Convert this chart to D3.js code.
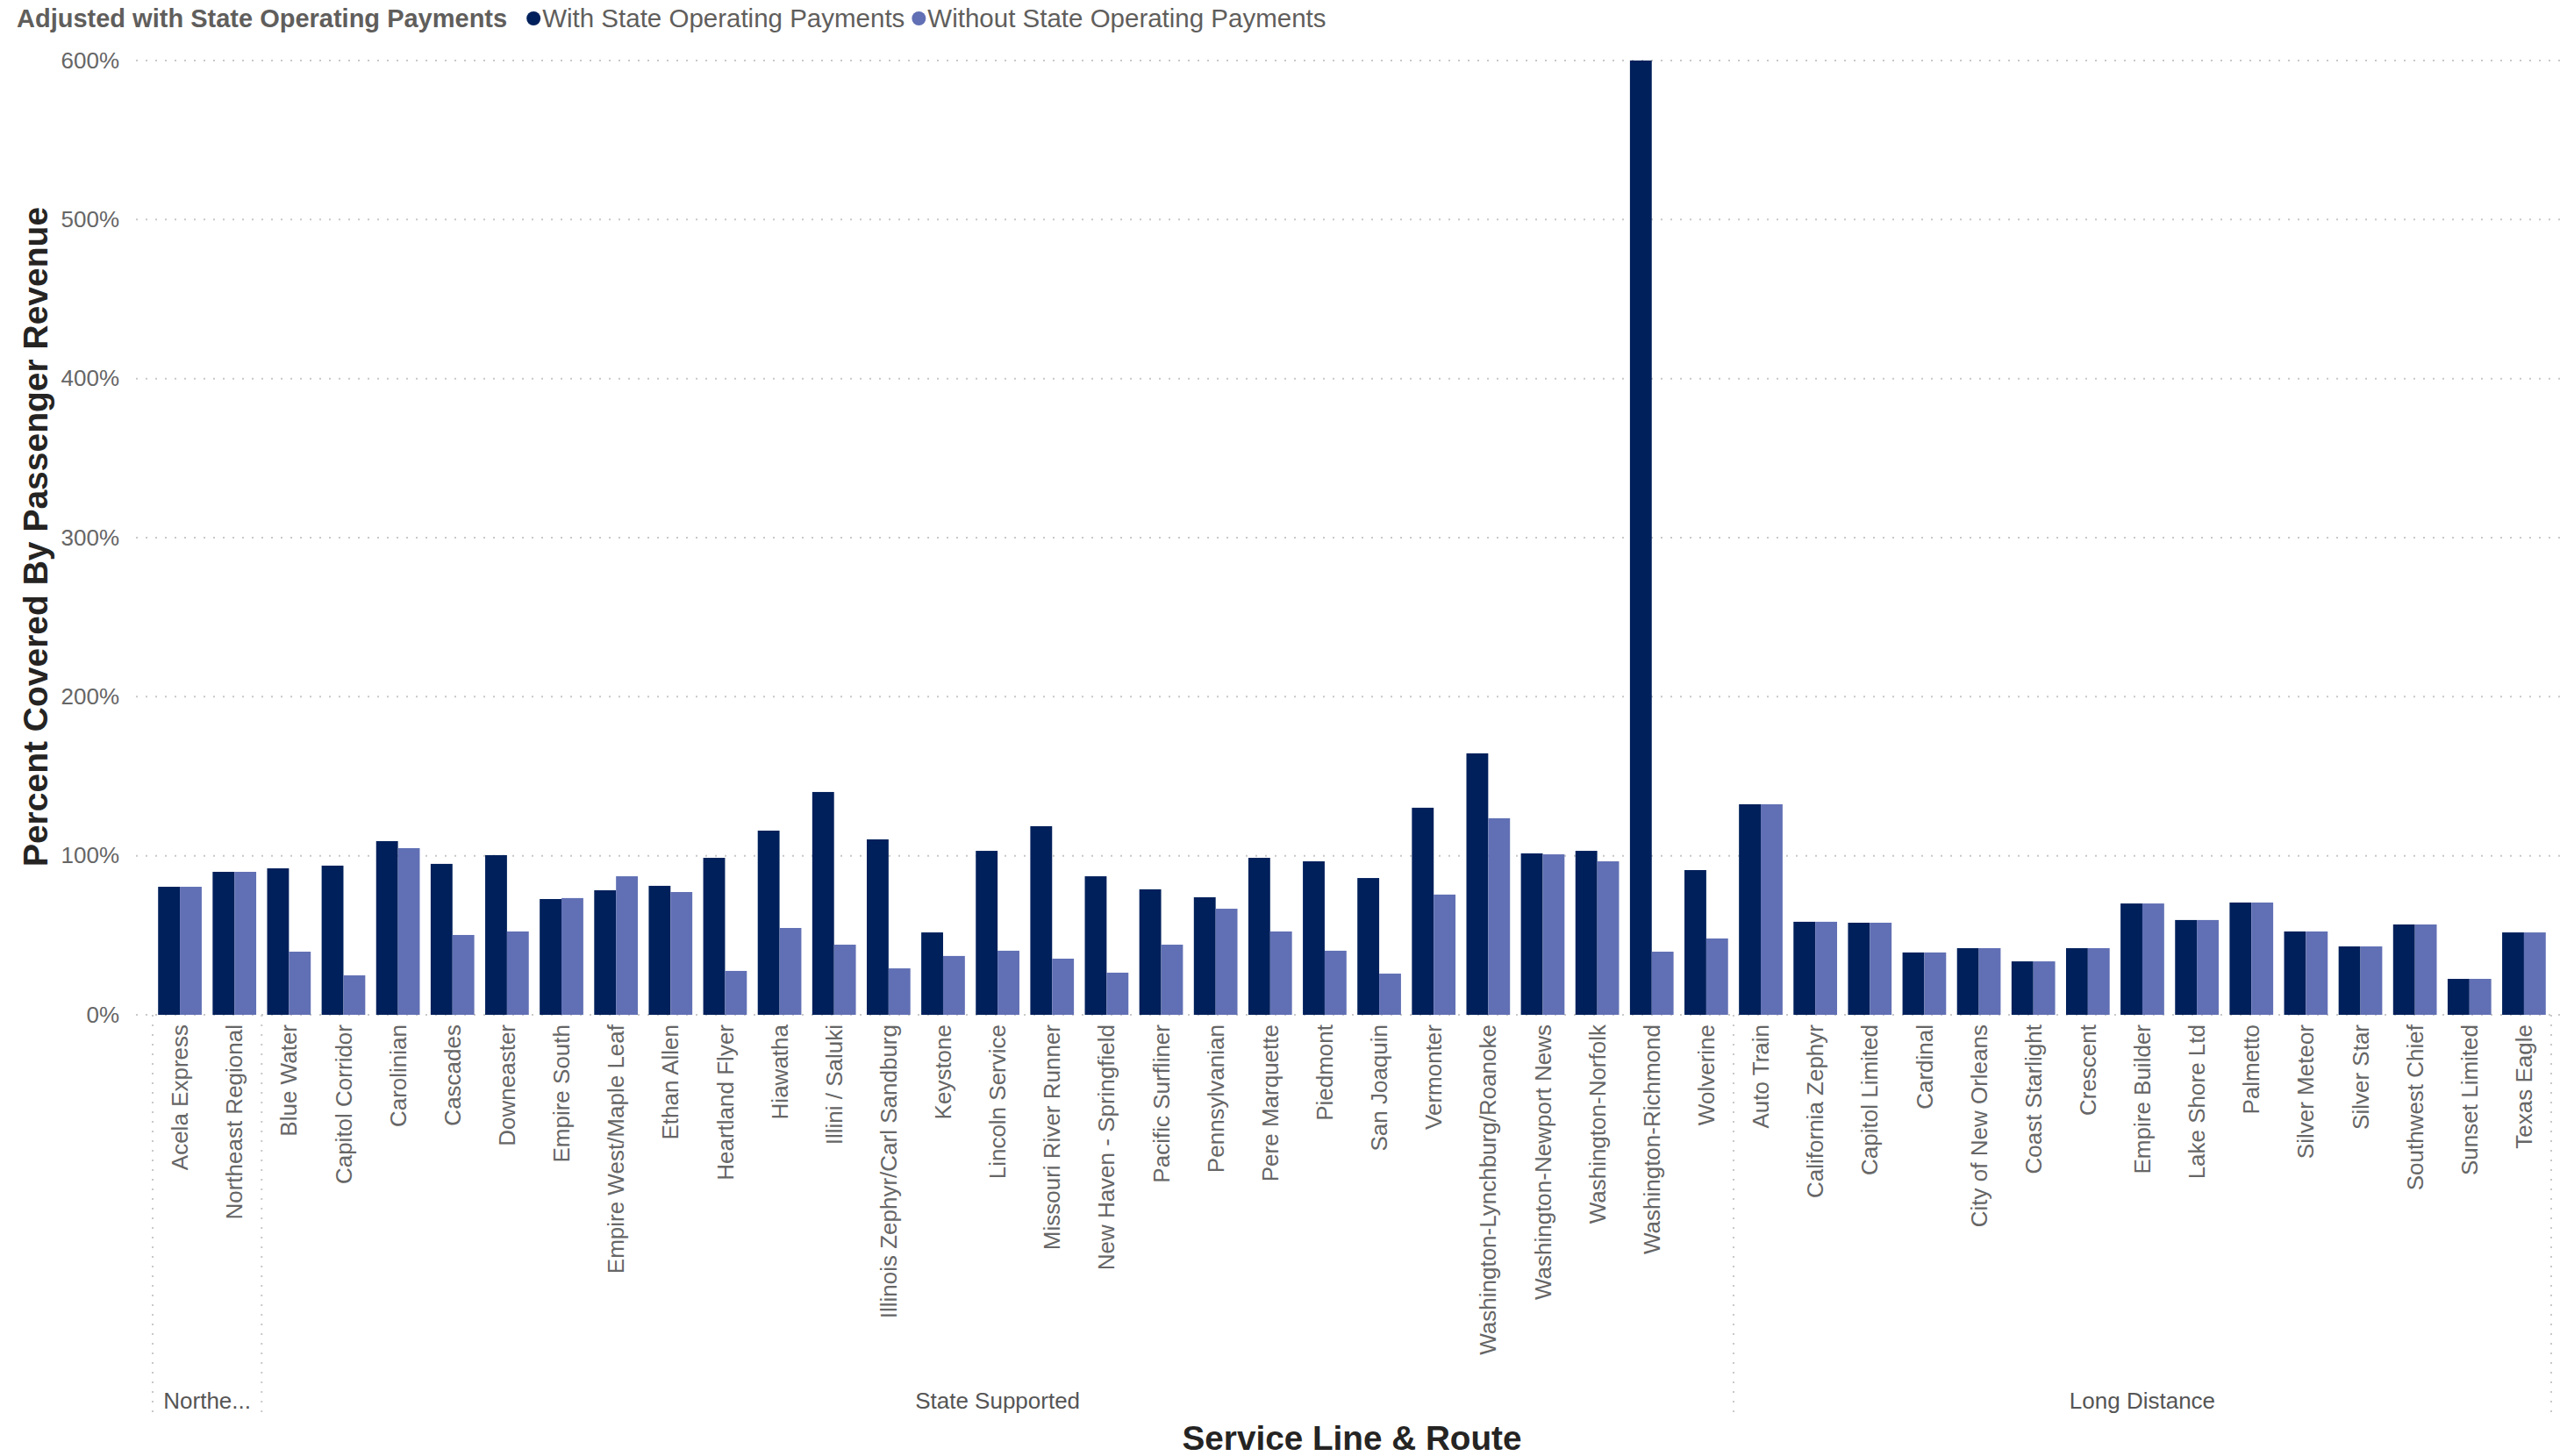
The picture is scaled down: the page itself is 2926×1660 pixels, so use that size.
<!DOCTYPE html>
<html>
<head>
<meta charset="utf-8">
<script src="https://cdn.jsdelivr.net/npm/d3@7"></script>
<style>
  html, body { margin: 0; padding: 0; background: #fff; }
  svg { display: block; font-family: "Liberation Sans", Arial, sans-serif; }
</style>
</head>
<body>
<svg id="chart" width="2926" height="1660"></svg>
<script>
// ---------- data ----------
const groups = ["Northeast Corridor", "State Supported", "Long Distance"];
const routes = [
  "Acela Express", "Northeast Regional",
  "Blue Water", "Capitol Corridor", "Carolinian", "Cascades", "Downeaster", "Empire South",
  "Empire West/Maple Leaf", "Ethan Allen", "Heartland Flyer", "Hiawatha", "Illini / Saluki",
  "Illinois Zephyr/Carl Sandburg", "Keystone", "Lincoln Service", "Missouri River Runner",
  "New Haven - Springfield", "Pacific Surfliner", "Pennsylvanian", "Pere Marquette", "Piedmont",
  "San Joaquin", "Vermonter", "Washington-Lynchburg/Roanoke", "Washington-Newport News",
  "Washington-Norfolk", "Washington-Richmond", "Wolverine",
  "Auto Train", "California Zephyr", "Capitol Limited", "Cardinal", "City of New Orleans",
  "Coast Starlight", "Crescent", "Empire Builder", "Lake Shore Ltd", "Palmetto", "Silver Meteor",
  "Silver Star", "Southwest Chief", "Sunset Limited", "Texas Eagle"
];
const routeGroup = [
  0, 0,
  1, 1, 1, 1, 1, 1, 1, 1, 1, 1, 1, 1, 1, 1, 1, 1, 1, 1, 1, 1, 1, 1, 1, 1, 1, 1, 1,
  2, 2, 2, 2, 2, 2, 2, 2, 2, 2, 2, 2, 2, 2, 2
];
const seriesNames = ["With State Operating Payments", "Without State Operating Payments"];
const withState = [
  80.5, 89.9,
  92.1, 93.8, 109.2, 94.9, 100.4, 72.8, 78.3, 81.1, 98.7, 115.8, 140.1, 110.3, 51.8, 103.1,
  118.6, 87.1, 78.9, 73.9, 98.7, 96.5, 86.0, 130.2, 164.4, 101.5, 103.1, 600, 91.0,
  132.4, 58.5, 57.9, 39.2, 41.9, 33.6, 41.9, 70.0, 59.6, 70.6, 52.4, 43.0, 56.8, 22.6, 51.8
];
const withoutState = [
  80.5, 89.9,
  39.7, 24.8, 104.8, 50.2, 52.4, 73.4, 87.1, 77.2, 27.6, 54.6, 44.1, 29.2, 37.0, 40.3,
  35.3, 26.5, 44.1, 66.7, 52.4, 40.3, 25.9, 75.6, 123.6, 100.9, 96.5, 39.7, 48.0,
  132.4, 58.5, 57.9, 39.2, 41.9, 33.6, 41.9, 70.0, 59.6, 70.6, 52.4, 43.0, 56.8, 22.6, 51.8
];
const yTicks = [0, 100, 200, 300, 400, 500, 600];
const legendTitle = "Adjusted with State Operating Payments";
const yTitle = "Percent Covered By Passenger Revenue";
const xTitle = "Service Line & Route";

// ---------- layout ----------
const colors = ["#00205B", "#6170B4"];
const svg = d3.select("#chart");
const plot = { left: 174, right: 2908, top: 69, bottom: 1157 };

const x = d3.scaleBand().domain(routes).range([plot.left, plot.right])
  .paddingInner(0.2).paddingOuter(0.1);
const xs = d3.scaleBand().domain(seriesNames).range([0, x.bandwidth()]);
const y = d3.scaleLinear().domain([0, 600]).range([plot.bottom, plot.top]);

// gridlines
svg.append("g").selectAll("line").data(yTicks).join("line")
  .attr("x1", 155).attr("x2", 2926)
  .attr("y1", d => y(d)).attr("y2", d => y(d))
  .attr("stroke", "#c8c8c8").attr("stroke-width", 2)
  .attr("stroke-dasharray", "2,9");

// y axis labels
const yAxis = d3.axisLeft(y).tickValues(yTicks).tickFormat(d => d + "%").tickSize(0).tickPadding(0);
const yg = svg.append("g").attr("transform", "translate(136,0)").call(yAxis);
yg.select(".domain").remove();
yg.selectAll("text").attr("font-size", 26).attr("fill", "#666")
  .attr("font-family", "'Liberation Sans', Arial, sans-serif");

// bars
const data = routes.map((r, i) => ({ route: r, vals: [withState[i], withoutState[i]] }));
const bars = svg.append("g");
data.forEach(d => {
  d.vals.forEach((v, k) => {
    const vv = Math.min(v, 600);
    bars.append("rect")
      .attr("x", x(d.route) + xs(seriesNames[k]))
      .attr("width", xs.bandwidth())
      .attr("y", y(vv))
      .attr("height", y(0) - y(vv))
      .attr("fill", colors[k]);
  });
});

// x axis labels (rotated)
const xAxis = d3.axisBottom(x).tickSize(0).tickPadding(0);
const xg = svg.append("g").attr("transform", `translate(0,${plot.bottom})`).call(xAxis);
xg.select(".domain").remove();
xg.selectAll("text")
  .attr("font-size", 26).attr("fill", "#666")
  .attr("font-family", "'Liberation Sans', Arial, sans-serif")
  .attr("text-anchor", "end")
  .attr("transform", "rotate(-90)")
  .attr("x", -11).attr("y", 0).attr("dy", "0.35em");

// group dividers and labels
const groupBounds = groups.map((g, gi) => {
  const idx = routeGroup.map((v, i) => v === gi ? i : -1).filter(i => i >= 0);
  const first = routes[idx[0]], last = routes[idx[idx.length - 1]];
  const x0 = x(first) - x.step() * x.paddingInner() / 2 - (idx[0] === 0 ? x.step() * (x.paddingOuter() - x.paddingInner() / 2) : 0);
  const x1 = x(last) + x.bandwidth() + x.step() * x.paddingInner() / 2 + (idx[idx.length - 1] === routes.length - 1 ? x.step() * (x.paddingOuter() - x.paddingInner() / 2) : 0);
  return { name: g, x0, x1 };
});
const divX = [groupBounds[0].x0].concat(groupBounds.map(g => g.x1));
svg.append("g").selectAll("line").data(divX).join("line")
  .attr("x1", d => d).attr("x2", d => d)
  .attr("y1", plot.bottom).attr("y2", 1614)
  .attr("stroke", "#c8c8c8").attr("stroke-width", 2)
  .attr("stroke-dasharray", "2,9");

const gl = svg.append("g");
groupBounds.forEach(g => {
  const t = gl.append("text")
    .attr("x", (g.x0 + g.x1) / 2).attr("y", 1606)
    .attr("text-anchor", "middle")
    .attr("font-size", 26).attr("fill", "#555")
    .text(g.name);
  const avail = g.x1 - g.x0 - 14;
  let s = g.name;
  while (t.node().getComputedTextLength() > avail && s.length > 1) {
    s = s.slice(0, -1);
    t.text(s + "...");
  }
});

// axis titles
svg.append("text")
  .attr("transform", "translate(54,612) rotate(-90)")
  .attr("text-anchor", "middle")
  .attr("font-size", 39).attr("font-weight", "bold").attr("fill", "#252423")
  .text(yTitle);
svg.append("text")
  .attr("x", 1541).attr("y", 1653)
  .attr("text-anchor", "middle")
  .attr("font-size", 38.7).attr("font-weight", "bold").attr("fill", "#252423")
  .text(xTitle);

// legend
const lg = svg.append("g");
const lt = lg.append("text").attr("x", 19).attr("y", 31)
  .attr("font-size", 29).attr("font-weight", "bold").attr("fill", "#605E5C")
  .text(legendTitle);
let lx = 19 + lt.node().getComputedTextLength() + 30;
seriesNames.forEach((s, k) => {
  lg.append("circle").attr("cx", lx).attr("cy", 21).attr("r", 8).attr("fill", colors[k]);
  const tt = lg.append("text").attr("x", lx + 10).attr("y", 31)
    .attr("font-size", 29.5).attr("fill", "#605E5C").text(s);
  lx += 10 + tt.node().getComputedTextLength() + 16;
});
</script>
</body>
</html>
